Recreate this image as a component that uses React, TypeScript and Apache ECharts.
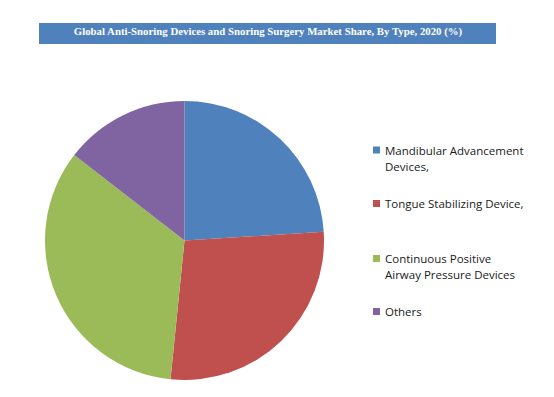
import React, { useEffect, useRef } from "react";
import * as echarts from "echarts";

const TITLE = "Global Anti-Snoring Devices and Snoring Surgery Market Share, By Type, 2020 (%)";
const categories = [
  "Mandibular Advancement Devices,",
  "Tongue Stabilizing Device,",
  "Continuous Positive Airway Pressure Devices",
  "Others",
];
const legendLabels = [
  "Mandibular Advancement\nDevices,",
  "Tongue Stabilizing Device,",
  "Continuous Positive\nAirway Pressure Devices",
  "Others",
];
const shares = [24.0, 27.6, 33.9, 14.5];
const colors = ["#4F81BD", "#C0504D", "#9BBB59", "#8064A2"];
const legendCenters = [150, 203.5, 258.5, 311.5];

export default function App() {
  const ref = useRef<HTMLDivElement>(null);
  useEffect(() => {
    if (!ref.current) return;
    const chart = echarts.init(ref.current, null, { renderer: "svg" });
    const legends = categories.map((name, i) => {
      const twoLine = legendLabels[i].includes("\n");
      const label = twoLine ? "\n" + legendLabels[i] : legendLabels[i];
      return {
        orient: "vertical",
        left: 373,
        top: legendCenters[i] - (twoLine ? 24 : 8),
        padding: 0,
        data: [name],
        itemWidth: 7,
        itemHeight: 7,
        itemGap: 0,
        icon: "rect",
        selectedMode: false,
        formatter: () => label,
        textStyle: {
          fontFamily: "Open Sans",
          fontSize: 11.5,
          color: "#1a1a1a",
          lineHeight: 16,
        },
      };
    });
    chart.setOption({
      animation: false,
      backgroundColor: "#ffffff",
      color: colors,
      title: {
        text: TITLE,
        left: 263,
        top: 18.5,
        textAlign: "center",
        z: 10,
        textStyle: {
          fontFamily: "Liberation Serif",
          fontWeight: "bold",
          fontSize: 10.8,
          color: "#ffffff",
          lineHeight: 14,
        },
      },
      graphic: [
        {
          type: "rect",
          z: 0,
          shape: { x: 39, y: 23, width: 457, height: 21 },
          style: { fill: "#4F81BD" },
        },
      ],
      legend: legends,
      series: [
        {
          type: "pie",
          center: [184.5, 240.5],
          radius: [0, 139.5],
          startAngle: 90,
          clockwise: true,
          label: { show: false },
          labelLine: { show: false },
          itemStyle: { borderWidth: 0 },
          emphasis: { disabled: true },
          data: categories.map((name, i) => ({ name, value: shares[i] })),
        },
      ],
    });
    return () => chart.dispose();
  }, []);
  return (
    <div
      ref={ref}
      style={{ position: "fixed", left: 0, top: 0, width: 554, height: 397 }}
    />
  );
}
